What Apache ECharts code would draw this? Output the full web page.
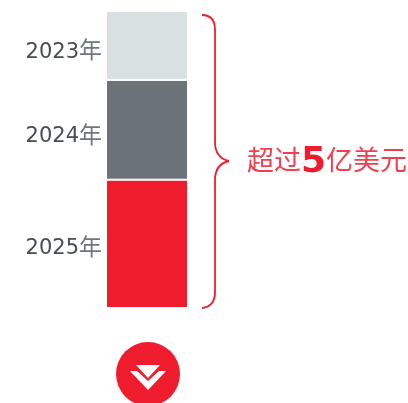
<!DOCTYPE html>
<html>
<head>
<meta charset="utf-8">
<style>
  html, body { margin: 0; padding: 0; background: #fff; }
  #chart { width: 408px; height: 403px; }
</style>
<script src="https://cdn.jsdelivr.net/npm/echarts@6/dist/echarts.min.js"></script>
</head>
<body>
<div id="chart"></div>
<script>
const years = ['2025', '2024', '2023']
const yearSuffix = '年'
const amounts = [2.16, 1.68, 1.16]
const barColors = ['#ef1c2e', '#6a7378', '#d8e0e2']
const labelOffsets = [5, 7, 7]
const categories = ['累计']
const braceLabel = ['超过', '5', '亿美元']

const red = '#ef1c2e'
const fontFamily = '"DejaVu Sans", "Noto Sans CJK SC", sans-serif'

const braceStyle = { fill: 'none', stroke: red, lineWidth: 1.8 }
const curve = (x1, y1, cpx1, cpy1, cpx2, cpy2, x2, y2) => ({
  type: 'bezierCurve',
  shape: { x1, y1, cpx1, cpy1, cpx2, cpy2, x2, y2 },
  style: braceStyle
})
const straight = (x1, y1, x2, y2) => ({
  type: 'line',
  shape: { x1, y1, x2, y2 },
  style: braceStyle
})

const chart = echarts.init(document.getElementById('chart'), null, { renderer: 'canvas' })

chart.setOption({
  animation: false,
  backgroundColor: '#fff',
  grid: { left: 106, top: 11, width: 82, height: 297 },
  xAxis: { type: 'category', data: categories, show: false },
  yAxis: { type: 'value', min: 0, max: 5, show: false },
  series: years.map((year, i) => ({
    name: year,
    type: 'bar',
    stack: 'total',
    barWidth: 82,
    data: [amounts[i]],
    itemStyle: { color: barColors[i], borderColor: '#fff', borderWidth: 1 },
    label: {
      show: true,
      position: 'left',
      distance: 4,
      offset: [0, labelOffsets[i]],
      formatter: `{y|${year}}{n|${yearSuffix}}`,
      rich: {
        y: { color: '#474d50', fontSize: 21, fontFamily: fontFamily },
        n: { color: '#6f7679', fontSize: 23, fontFamily: fontFamily }
      }
    }
  })),
  graphic: [
    curve(202, 15, 211, 15, 215, 20, 215, 30),
    straight(215, 30, 215, 142),
    curve(215, 142, 215, 153, 220, 159, 229, 161),
    curve(229, 161, 220, 163, 215, 169, 215, 180),
    straight(215, 180, 215, 292),
    curve(215, 292, 215, 302, 211, 307, 202, 308),
    {
      type: 'text',
      left: 247,
      top: 145,
      style: {
        text: `{t|${braceLabel[0]}}{b|${braceLabel[1]}}{t|${braceLabel[2]}}`,
        rich: {
          t: { fontSize: 27, fontFamily: fontFamily, fill: '#f0404f', color: '#f0404f' },
          b: { fontSize: 36, fontWeight: 'bold', fontFamily: fontFamily, fill: red, color: red }
        }
      }
    },
    {
      type: 'circle',
      shape: { cx: 148, cy: 374, r: 32 },
      style: { fill: red }
    },
    {
      type: 'polygon',
      shape: { points: [[136, 365], [160, 365], [148, 378]] },
      style: { fill: '#fff' }
    },
    {
      type: 'polygon',
      shape: { points: [[130, 371], [137, 371], [148, 381], [159, 371], [166, 371], [148, 390]] },
      style: { fill: '#fff' }
    }
  ]
})
</script>
</body>
</html>
